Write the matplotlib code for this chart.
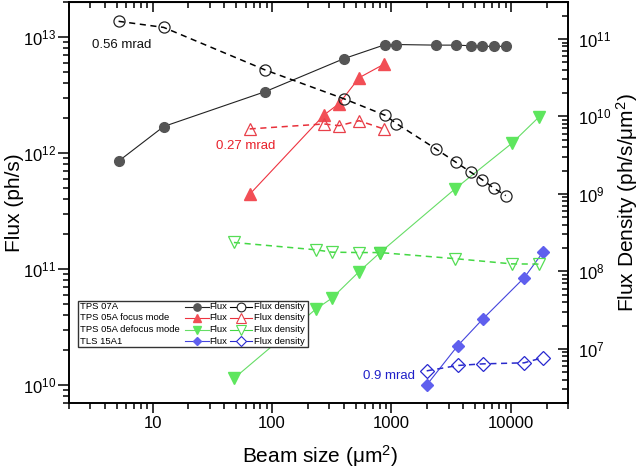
import matplotlib
matplotlib.use("Agg")
import matplotlib.pyplot as plt
from matplotlib.lines import Line2D
from matplotlib.patches import Rectangle
from matplotlib.ticker import LogLocator, NullFormatter, FuncFormatter

plt.rcParams['font.family'] = ['Liberation Sans', 'DejaVu Sans']
plt.rcParams['mathtext.fontset'] = 'custom'
plt.rcParams['mathtext.rm'] = 'Liberation Sans'
plt.rcParams['mathtext.it'] = 'Liberation Sans:italic'

# TPS 07A
tps07_size = [5.2, 12.4, 88, 400, 890, 1100, 2340, 3440, 4600, 5760, 7170, 9040]
tps07_flux = [8.5e11, 1.69e12, 3.38e12, 6.5e12, 8.6e12, 8.6e12,
              8.5e12, 8.5e12, 8.4e12, 8.3e12, 8.3e12, 8.3e12]
tps07_dens = [1.69e11, 1.41e11, 3.97e10, 1.69e10, 1.03e10, 8.1e9,
              3.83e9, 2.58e9, 1.91e9, 1.52e9, 1.19e9, 9.5e8]

# TPS 05A focus mode
tps05f_size = [65, 273, 364, 536, 859]
tps05f_flux = [4.4e11, 2.13e12, 2.66e12, 4.45e12, 5.8e12]
tps05f_dens = [6.9e9, 8.0e9, 7.6e9, 8.8e9, 6.9e9]

# TPS 05A defocus mode
tps05d_size = [48, 232, 317, 536, 799, 3400, 10150, 17300]
tps05d_flux = [1.14e10, 4.5e10, 5.6e10, 9.5e10, 1.38e11, 4.9e11, 1.21e12, 2.06e12]
tps05d_dens = [2.36e8, 1.9e8, 1.77e8, 1.75e8, 1.75e8, 1.46e8, 1.25e8, 1.24e8]

# TLS 15A1
tls_size = [1970, 3580, 5800, 12880, 18470]
tls_flux = [1.0e10, 2.18e10, 3.7e10, 8.4e10, 1.39e11]
tls_dens = [5.2e6, 6.1e6, 6.4e6, 6.6e6, 7.7e6]

names = ["TPS 07A", "TPS 05A focus mode", "TPS 05A defocus mode", "TLS 15A1"]

# flux marker colour, flux line colour, density edge colour, density line colour, marker, size
styles = [
    ("#555555", "#222222", "#222222", "#000000", "o", 7),
    ("#F24E55", "#EE3340", "#E8404A", "#E8303A", "^", 8),
    ("#5EE65E", "#66DD66", "#55DD55", "#44D844", "v", 8),
    ("#5F5FEE", "#4444DD", "#2828D0", "#2A2ACC", "D", 6),
]
series = [
    (tps07_size, tps07_flux, tps07_dens),
    (tps05f_size, tps05f_flux, tps05f_dens),
    (tps05d_size, tps05d_flux, tps05d_dens),
    (tls_size, tls_flux, tls_dens),
]

W, H = 640, 470
fig = plt.figure(figsize=(W / 100, H / 100), dpi=100)
ax = fig.add_axes([69 / W, 1 - 403 / H, (568 - 69) / W, (403 - 2) / H])
ax2 = ax.twinx()

for (size, flux, dens), (fc, lc, dc, dlc, mk, ms) in zip(series, styles):
    ax.plot(size, flux, color=lc, lw=0.8, marker=mk, ms=ms,
            mfc=fc, mec=fc, zorder=3)
    ax2.plot(size, dens, color=dlc, lw=1.1, ls=(0, (4, 3)), marker=mk, ms=ms + 1,
             mfc="none", mec=dc, mew=0.9, zorder=3)

ax.set_xscale("log")
ax.set_yscale("log")
ax2.set_yscale("log")
ax.set_xlim(2, 30000)
ax.set_ylim(7e9, 2e13)
ax2.set_ylim(2e6, 3e11)

for a in (ax, ax2):
    a.yaxis.set_major_locator(LogLocator(base=10, numticks=20))
    a.yaxis.set_minor_locator(LogLocator(base=10, subs=range(2, 10), numticks=100))
    a.yaxis.set_minor_formatter(NullFormatter())
    for sp in a.spines.values():
        sp.set_linewidth(1.2)
ax.xaxis.set_major_locator(LogLocator(base=10, numticks=20))
ax.xaxis.set_minor_locator(LogLocator(base=10, subs=range(2, 10), numticks=100))
ax.xaxis.set_major_formatter(FuncFormatter(lambda v, p: f"{v:.0f}"))
ax.xaxis.set_minor_formatter(NullFormatter())

ax.tick_params(axis="both", which="both", direction="out", labelsize=12, width=1.1)
ax.tick_params(axis="x", which="major", length=7, pad=2.5)
ax.tick_params(axis="x", which="minor", length=4)
ax.tick_params(axis="y", which="major", length=8, pad=1.5)
ax.tick_params(axis="y", which="minor", length=4)
ax2.tick_params(axis="y", which="both", direction="in", labelsize=12, width=1.1, pad=7)
ax2.tick_params(axis="y", which="major", length=7)
ax2.tick_params(axis="y", which="minor", length=4)

top = ax.secondary_xaxis("top")
top.tick_params(which="both", direction="in", labeltop=False, width=1.1)
top.tick_params(which="major", length=7)
top.tick_params(which="minor", length=4)
top.xaxis.set_minor_formatter(NullFormatter())

ax.set_xlabel("Beam size (μm$^2$)", fontsize=15)
ax.set_ylabel("Flux (ph/s)", fontsize=15)
ax2.set_ylabel("Flux Density (ph/s/μm$^2$)", fontsize=15)
ax.xaxis.set_label_coords((320 - 69) / 499, (403 - 443) / 401)
ax.yaxis.set_label_coords((24 - 69) / 499, 0.5)
ax2.yaxis.set_label_coords((614 - 69) / 499, 0.5)

ax.text(3.1, 8.6e12, "0.56 mrad", fontsize=9.5, color="#111111", ha="left", va="center")
ax.text(33.7, 1.15e12, "0.27 mrad", fontsize=9.5, color="#E8202A", ha="left", va="center")
ax.text(573, 1.2e10, "0.9 mrad", fontsize=9.5, color="#2020C8", ha="left", va="center")


# legend panel, laid out in figure pixels
def fpx(x, y):
    return x / W, 1 - y / H


x0, y0 = fpx(78, 347)
x1, y1 = fpx(307.5, 301)
fig.add_artist(Rectangle((x0, y0), x1 - x0, y1 - y0, transform=fig.transFigure,
                         facecolor="white", edgecolor="#333333", lw=1.0, zorder=5))
rows_y = [306.5, 318, 329.5, 341]
for name, (fc, lc, dc, dlc, mk, ms), ry in zip(names, styles, rows_y):
    fig.text(*fpx(79.5, ry), name, fontsize=6.8, ha="left", va="center", zorder=6)
    lx0, ly = fpx(185, ry)
    lx1, _ = fpx(209, ry)
    fig.add_artist(Line2D([lx0, lx1], [ly, ly], transform=fig.transFigure, color=lc,
                          lw=0.8, zorder=6))
    fig.add_artist(Line2D([(lx0 + lx1) / 2], [ly], transform=fig.transFigure, marker=mk,
                          ms=ms * 0.75, mfc=fc, mec=fc, ls="none", zorder=7))
    fig.text(*fpx(209.5, ry), "Flux", fontsize=6.8, ha="left", va="center", zorder=6)
    dx0, _ = fpx(230, ry)
    dx1, _ = fpx(252, ry)
    fig.add_artist(Line2D([dx0, dx1], [ly, ly], transform=fig.transFigure, color=dlc,
                          lw=0.8, zorder=6))
    fig.add_artist(Line2D([(dx0 + dx1) / 2], [ly], transform=fig.transFigure, marker=mk,
                          ms=ms * 0.9, mfc="white", mec=dc, mew=0.8, ls="none", zorder=7))
    fig.text(*fpx(254, ry), "Flux density", fontsize=6.8, ha="left", va="center", zorder=6)

fig.savefig("out.png", dpi=100)
